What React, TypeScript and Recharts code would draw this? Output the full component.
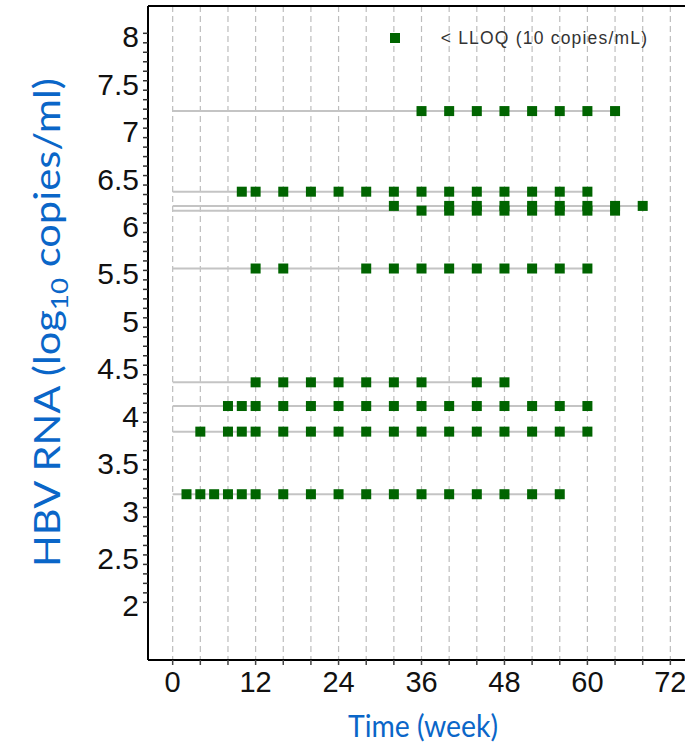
import React from 'react';
import {
  ComposedChart,
  Line,
  Scatter,
  XAxis,
  YAxis,
  CartesianGrid,
  Legend,
  ReferenceLine,
} from 'recharts';

// ---- axis ticks / labels ----
const weekTicks = [0, 4, 8, 12, 16, 20, 24, 28, 32, 36, 40, 44, 48, 52, 56, 60, 64, 68, 72];
const weekLabels = [0, 12, 24, 36, 48, 60, 72];
const yTickLabels = [2, 2.5, 3, 3.5, 4, 4.5, 5, 5.5, 6, 6.5, 7, 7.5, 8];
const yMinorTicks = Array.from({ length: 61 }, (_, i) => Math.round((2 + i * 0.1) * 10) / 10);

const X_MIN = -3.57;
const X_MAX = 76;
const Y_MIN = 1.392;
const Y_MAX = 8.288;

// ---- per-patient data: baseline HBV RNA and weeks with < LLOQ ----
const patientBaseline = [7.18, 6.33, 6.18, 6.13, 5.52, 4.32, 4.07, 3.8, 3.14];
const p1Weeks = [36, 40, 44, 48, 52, 56, 60, 64];
const p2Weeks = [10, 12, 16, 20, 24, 28, 32, 36, 40, 44, 48, 52, 56, 60];
const p3Weeks = [32, 40, 44, 48, 52, 56, 60, 64, 68];
const p4Weeks = [36, 40, 44, 48, 52, 56, 60, 64];
const p5Weeks = [12, 16, 28, 32, 36, 40, 44, 48, 52, 56, 60];
const p6Weeks = [12, 16, 20, 24, 28, 32, 36, 44, 48];
const p7Weeks = [8, 10, 12, 16, 20, 24, 28, 32, 36, 40, 44, 48, 52, 56, 60];
const p8Weeks = [4, 8, 10, 12, 16, 20, 24, 28, 32, 36, 40, 44, 48, 52, 56, 60];
const p9Weeks = [2, 4, 6, 8, 10, 12, 16, 20, 24, 28, 32, 36, 40, 44, 48, 52, 56];
const patientWeeks = [p1Weeks, p2Weeks, p3Weeks, p4Weeks, p5Weeks, p6Weeks, p7Weeks, p8Weeks, p9Weeks];

const legendLabel = '< LLOQ (10 copies/mL)';
const MARKER = '#006400';
const BLUE = '#0a66c8';

const rows = patientBaseline.map((v, i) => ({
  line: [{ x: 0, y: v }, ...patientWeeks[i].map((w) => ({ x: w, y: v }))],
  points: patientWeeks[i].map((w) => ({ x: w, y: v })),
}));

const YTick = (props: any) => {
  const { x, y, payload } = props;
  if (!yTickLabels.includes(payload.value)) return <g />;
  return (
    <text x={x} y={y + 14} textAnchor="end" fontFamily="'Liberation Sans', Arial, sans-serif" fontSize={30} fill="#111">
      {payload.value}
    </text>
  );
};

const XTick = (props: any) => {
  const { x, y, payload } = props;
  if (!weekLabels.includes(payload.value)) return <g />;
  return (
    <text x={x} y={y + 25} textAnchor="middle" fontFamily="'Liberation Sans', Arial, sans-serif" fontSize={29} fill="#111">
      {payload.value}
    </text>
  );
};

const YTitle = (props: any) => {
  const vb = props.viewBox;
  const cx = vb.x + 60;
  const cy = vb.y + vb.height / 2 - 10.5;
  return (
    <text
      transform={`rotate(-90 ${cx} ${cy})`}
      x={cx}
      y={cy}
      textAnchor="middle"
      fontFamily="Lato, 'Open Sans', sans-serif"
      fontSize={36}
      fill={BLUE}
      textLength={489}
      lengthAdjust="spacingAndGlyphs"
    >
      <tspan>HBV RNA (log</tspan>
      <tspan dy={8} fontSize={24}>10</tspan>
      <tspan dy={-8}> copies/ml)</tspan>
    </text>
  );
};

const XTitle = (props: any) => {
  const vb = props.viewBox;
  return (
    <text
      x={vb.x + vb.width / 2}
      y={vb.y + 76.7}
      textAnchor="middle"
      fontFamily="Lato, 'Open Sans', sans-serif"
      fontSize={30}
      fill={BLUE}
      textLength={150}
      lengthAdjust="spacingAndGlyphs"
    >
      Time (week)
    </text>
  );
};

const Square = (props: any) => {
  const { cx, cy } = props;
  return <rect x={cx - 5} y={cy - 5} width={10} height={10} fill={MARKER} />;
};

const LegendContent = () => (
  <div
    style={{
      display: 'flex',
      alignItems: 'flex-start',
      fontFamily: "'Liberation Sans', Arial, sans-serif",
      fontSize: 17.5,
      lineHeight: '20px',
      color: '#333',
      whiteSpace: 'nowrap',
    }}
  >
    <span style={{ display: 'inline-block', width: 10, height: 10, background: MARKER, marginTop: 5, marginRight: 40.7 }} />
    <span style={{ letterSpacing: 1.2 }}>{legendLabel}</span>
  </div>
);

export default function App() {
  return (
    <div
      style={{
        position: 'absolute',
        left: 0,
        top: 0,
        width: 685,
        height: 743,
        overflow: 'hidden',
        background: '#fff',
      }}
    >
      <ComposedChart width={700} height={743} margin={{ top: 6, right: 2, bottom: 0, left: 0 }}>
        <CartesianGrid horizontal={false} stroke="#bdbdbd" strokeDasharray="6 4" strokeWidth={1.2} />
        <XAxis
          dataKey="x"
          type="number"
          domain={[X_MIN, X_MAX]}
          ticks={weekTicks}
          interval={0}
          height={83}
          allowDataOverflow
          axisLine={{ stroke: '#000', strokeWidth: 2 }}
          tickLine={{ stroke: '#444', strokeWidth: 1.5 }}
          tickSize={5}
          tick={<XTick />}
          label={{ content: XTitle }}
        />
        <YAxis
          dataKey="y"
          type="number"
          domain={[Y_MIN, Y_MAX]}
          ticks={yMinorTicks}
          interval={0}
          width={148}
          allowDataOverflow
          axisLine={{ stroke: '#000', strokeWidth: 2 }}
          tickLine={{ stroke: '#333', strokeWidth: 1.5 }}
          tickSize={5}
          tickMargin={4}
          tick={<YTick />}
          label={{ content: YTitle }}
        />
        <ReferenceLine y={Y_MAX} stroke="#000" strokeWidth={2} />
        {rows.map((r, i) => (
          <Line
            key={'l' + i}
            data={r.line}
            dataKey="y"
            type="linear"
            stroke="#c4c4c4"
            strokeWidth={2}
            dot={false}
            activeDot={false}
            legendType="none"
            isAnimationActive={false}
          />
        ))}
        {rows.map((r, i) => (
          <Scatter
            key={'s' + i}
            data={r.points}
            dataKey="y"
            fill={MARKER}
            shape={Square}
            legendType="none"
            isAnimationActive={false}
          />
        ))}
        <Legend
          layout="horizontal"
          verticalAlign="middle"
          align="center"
          wrapperStyle={{ left: 390, top: 28.4, width: 'auto', height: 'auto' }}
          content={LegendContent}
        />
      </ComposedChart>
    </div>
  );
}
